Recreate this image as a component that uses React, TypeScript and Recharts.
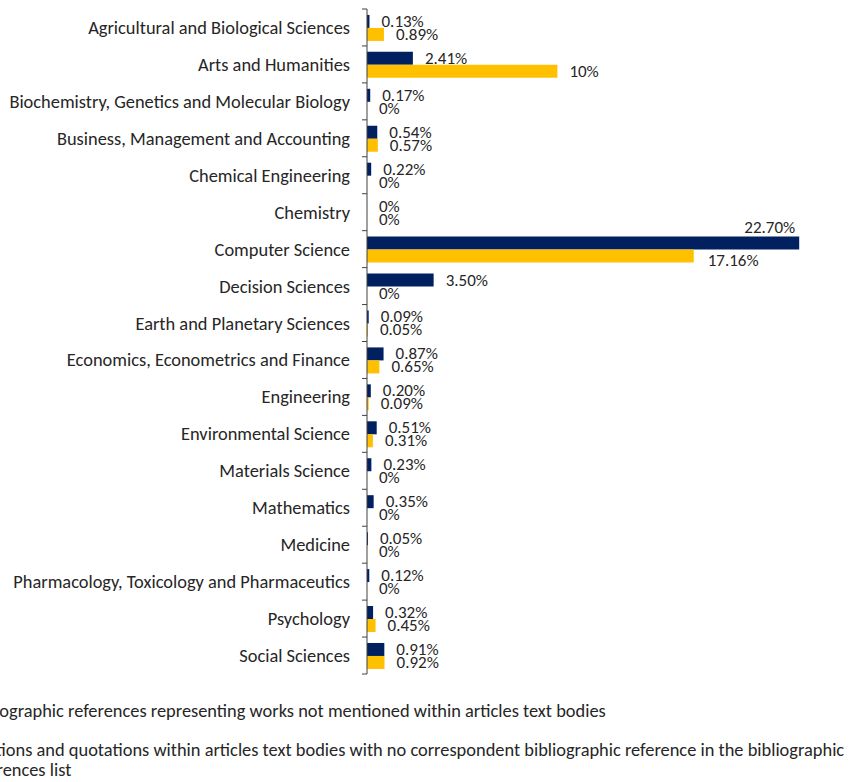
import React from 'react'
import { BarChart, Bar, XAxis, YAxis, LabelList } from 'recharts'

const categories = [
  'Agricultural and Biological Sciences',
  'Arts and Humanities',
  'Biochemistry, Genetics and Molecular Biology',
  'Business, Management and Accounting',
  'Chemical Engineering',
  'Chemistry',
  'Computer Science',
  'Decision Sciences',
  'Earth and Planetary Sciences',
  'Economics, Econometrics and Finance',
  'Engineering',
  'Environmental Science',
  'Materials Science',
  'Mathematics',
  'Medicine',
  'Pharmacology, Toxicology and Pharmaceutics',
  'Psychology',
  'Social Sciences'
]

// navy series
const notMentioned = [0.13, 2.41, 0.17, 0.54, 0.22, 0, 22.7, 3.5, 0.09, 0.87, 0.2, 0.51, 0.23, 0.35, 0.05, 0.12, 0.32, 0.91]
// gold series
const noReference = [0.89, 10, 0, 0.57, 0, 0, 17.16, 0, 0.05, 0.65, 0.09, 0.31, 0, 0, 0, 0, 0.45, 0.92]

const legendItems = [
  ['Bibliographic references representing works not mentioned within articles text bodies'],
  ['Citations and quotations within articles text bodies with no correspondent bibliographic reference in the bibliographic', 'references list']
]

const NAVY = '#002060'
const GOLD = '#FFC000'
const FONT = 'Carlito, Lato, sans-serif'
const TEXT = '#262626'
const FS = 18.4

const W = 857
const H = 782
const MARGIN = { top: 9, right: 14, bottom: 108, left: 0 }
const BAND = (H - MARGIN.top - MARGIN.bottom) / categories.length

const data = categories.map((name, i) => ({
  name,
  a: notMentioned[i],
  b: noReference[i]
}))

const fmt = (v: number) => (Number.isInteger(v) ? `${v}%` : `${v.toFixed(2)}%`)

const CategoryTick = ({ x, y, payload, index }: any) => {
  const last = index === categories.length - 1
  return (
    <g>
      <line x1={x - 5} x2={x} y1={y - BAND / 2} y2={y - BAND / 2} stroke="#404040" />
      {last && <line x1={x - 5} x2={x} y1={y + BAND / 2} y2={y + BAND / 2} stroke="#404040" />}
      <text x={x - 17} y={y} textAnchor="end" dominantBaseline="central" fill={TEXT} fontSize={FS} fontFamily={FONT}>
        {payload.value}
      </text>
    </g>
  )
}

const makeLabel = (gold: boolean) => (props: any) => {
  const { x, y, width, height, value } = props
  const end = x + Math.max(0, width)
  let tx = end + 12
  let ty = y + height / 2
  let anchor = 'start'
  if (value > 20) {
    // too long to fit a label after it, so it sits above the bar
    tx = end - 4
    ty = y - 9
    anchor = 'end'
  } else if (gold && value > 15) {
    tx = end + 14
    ty = y + height / 2 + 4
  }
  return (
    <text x={tx} y={ty} textAnchor={anchor} dominantBaseline="central" fill={TEXT} fontSize={17} fontFamily={FONT}>
      {fmt(value)}
    </text>
  )
}

export default function App() {
  return (
    <div style={{ position: 'absolute', left: 0, top: 0, width: W, height: H, overflow: 'hidden', background: '#fff' }}>
      <BarChart
        width={W}
        height={H}
        data={data}
        layout="vertical"
        margin={MARGIN}
        barCategoryGap="16%"
        barGap={0}
      >
        <XAxis type="number" domain={[0, 25]} hide />
        <YAxis
          type="category"
          dataKey="name"
          width={367}
          tickSize={0}
          tickMargin={0}
          tickLine={false}
          axisLine={{ stroke: '#404040' }}
          tick={<CategoryTick />}
          interval={0}
        />
        <Bar dataKey="a" fill={NAVY} minPointSize={0.01} isAnimationActive={false}>
          <LabelList dataKey="a" content={makeLabel(false)} />
        </Bar>
        <Bar dataKey="b" fill={GOLD} minPointSize={0.01} isAnimationActive={false}>
          <LabelList dataKey="b" content={makeLabel(true)} />
        </Bar>
      </BarChart>
      <div style={{ position: 'absolute', left: -57, top: 701, fontFamily: FONT, fontSize: FS, color: TEXT, lineHeight: '20px' }}>
        {legendItems.map((lines, i) => (
          <div key={i} style={{ display: 'flex', alignItems: 'flex-start', marginBottom: 19 }}>
            <span style={{ width: 14, height: 14, marginTop: 3, marginRight: 10, background: i === 0 ? NAVY : GOLD, flexShrink: 0 }} />
            <div style={{ whiteSpace: 'nowrap' }}>
              {lines.map((l, j) => (
                <div key={j}>{l}</div>
              ))}
            </div>
          </div>
        ))}
      </div>
    </div>
  )
}
